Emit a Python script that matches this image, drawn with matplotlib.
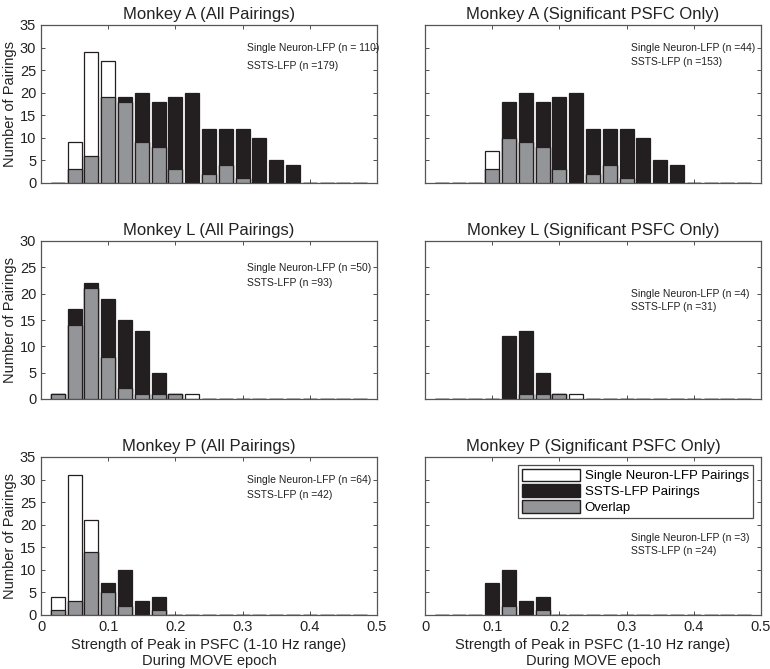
import matplotlib
matplotlib.use("Agg")
import matplotlib.pyplot as plt
from matplotlib.patches import Patch
import numpy as np

plt.rcParams['font.family'] = ['Liberation Sans', 'DejaVu Sans']

bin_centers = [0.025, 0.05, 0.075, 0.1, 0.125, 0.15, 0.175, 0.2, 0.225, 0.25,
               0.275, 0.3, 0.325, 0.35, 0.375, 0.4, 0.425, 0.45, 0.475]

# counts per bin (aligned with bin_centers)
a_all_single = [0, 9, 29, 27, 18, 9, 8, 3, 0, 2, 4, 1, 0, 0, 0, 0, 0, 0, 0]
a_all_ssts   = [0, 3, 6, 19, 19, 20, 18, 19, 20, 12, 12, 12, 10, 5, 4, 0, 0, 0, 0]
a_sig_single = [0, 0, 0, 7, 10, 9, 8, 3, 0, 2, 4, 1, 0, 0, 0, 0, 0, 0, 0]
a_sig_ssts   = [0, 0, 0, 3, 18, 20, 18, 19, 20, 12, 12, 12, 10, 5, 4, 0, 0, 0, 0]
l_all_single = [1, 14, 21, 8, 2, 1, 1, 1, 1, 0, 0, 0, 0, 0, 0, 0, 0, 0, 0]
l_all_ssts   = [1, 17, 22, 19, 15, 13, 5, 1, 0, 0, 0, 0, 0, 0, 0, 0, 0, 0, 0]
l_sig_single = [0, 0, 0, 0, 0, 1, 1, 1, 1, 0, 0, 0, 0, 0, 0, 0, 0, 0, 0]
l_sig_ssts   = [0, 0, 0, 0, 12, 13, 5, 1, 0, 0, 0, 0, 0, 0, 0, 0, 0, 0, 0]
p_all_single = [4, 31, 21, 5, 2, 0, 1, 0, 0, 0, 0, 0, 0, 0, 0, 0, 0, 0, 0]
p_all_ssts   = [1, 3, 14, 7, 10, 3, 4, 0, 0, 0, 0, 0, 0, 0, 0, 0, 0, 0, 0]
p_sig_single = [0, 0, 0, 0, 2, 0, 1, 0, 0, 0, 0, 0, 0, 0, 0, 0, 0, 0, 0]
p_sig_ssts   = [0, 0, 0, 7, 10, 3, 4, 0, 0, 0, 0, 0, 0, 0, 0, 0, 0, 0, 0]

titles = ["Monkey A (All Pairings)", "Monkey A (Significant PSFC Only)",
          "Monkey L (All Pairings)", "Monkey L (Significant PSFC Only)",
          "Monkey P (All Pairings)", "Monkey P (Significant PSFC Only)"]
n_texts = [("Single Neuron-LFP (n = 110)", "SSTS-LFP (n =179)"),
           ("Single Neuron-LFP (n =44)", "SSTS-LFP (n =153)"),
           ("Single Neuron-LFP (n =50)", "SSTS-LFP (n =93)"),
           ("Single Neuron-LFP (n =4)", "SSTS-LFP (n =31)"),
           ("Single Neuron-LFP (n =64)", "SSTS-LFP (n =42)"),
           ("Single Neuron-LFP (n =3)", "SSTS-LFP (n =24)")]
y_max = [35, 35, 30, 30, 35, 35]
y_ticks = [[0, 5, 10, 15, 20, 25, 30, 35], [0, 5, 10, 15, 20, 25, 30, 35],
           [0, 5, 10, 15, 20, 25, 30], [0, 5, 10, 15, 20, 25, 30],
           [0, 5, 10, 15, 20, 25, 30, 35], [0, 5, 10, 15, 20, 25, 30, 35]]
x_ticks = [0, 0.1, 0.2, 0.3, 0.4, 0.5]
x_ticklabels = ["0", "0.1", "0.2", "0.3", "0.4", "0.5"]

singles = [a_all_single, a_sig_single, l_all_single, l_sig_single, p_all_single, p_sig_single]
sstss = [a_all_ssts, a_sig_ssts, l_all_ssts, l_sig_ssts, p_all_ssts, p_sig_ssts]

text_pos = [(0.856, 0.740), (0.856, 0.768), (0.831, 0.732),
            (0.663, 0.584), (0.854, 0.759), (0.485, 0.405)]

BLACK = "#231f20"
GRAY = "#939598"
EDGE = "#231f20"
SPINE = "#555555"

fig = plt.figure(figsize=(7.7, 6.69), dpi=100)
lefts = [41 / 770, 425 / 770]
bottoms = [1 - 183 / 669, 1 - 399 / 669, 1 - 615 / 669]
w = 336 / 770
h = 158 / 669

bw = 0.021
for i in range(6):
    r, c = divmod(i, 2)
    ax = fig.add_axes([lefts[c], bottoms[r], w, h])
    s = np.array(singles[i])
    t = np.array(sstss[i])
    m = np.minimum(s, t)
    x = np.array(bin_centers)
    lw = 0.9
    ax.bar(x, t, width=bw, color=BLACK, edgecolor=EDGE, linewidth=lw, zorder=2)
    ax.bar(x, s, width=bw, color="white", edgecolor=EDGE, linewidth=lw, zorder=3)
    ax.bar(x, m, width=bw, color=GRAY, edgecolor=EDGE, linewidth=lw, zorder=4)
    ax.set_xlim(0, 0.5)
    ax.set_ylim(0, y_max[i])
    ax.set_xticks(x_ticks)
    ax.set_yticks(y_ticks[i])
    ax.tick_params(direction="in", top=True, right=True, length=3, width=0.6,
                   colors="#333333", labelsize=10.5, labelcolor="#222222")
    for sp in ax.spines.values():
        sp.set_color(SPINE)
        sp.set_linewidth(0.9)
    if r == 2:
        ax.set_xticklabels(x_ticklabels)
        ax.set_xlabel("Strength of Peak in PSFC (1-10 Hz range)\nDuring MOVE epoch",
                      fontsize=10.5, color="#222222", labelpad=3)
    else:
        ax.set_xticklabels([])
    if c == 0:
        ax.set_ylabel("Number of Pairings", fontsize=10.5, color="#222222", labelpad=2)
    else:
        ax.set_yticklabels([])
    ax.set_title(titles[i], fontsize=12, color="#222222", pad=4)
    y1, y2 = text_pos[i]
    ax.text(0.613, y1, n_texts[i][0], transform=ax.transAxes, fontsize=7.5,
            va="center", ha="left", color="#222222")
    ax.text(0.613, y2, n_texts[i][1], transform=ax.transAxes, fontsize=7.5,
            va="center", ha="left", color="#222222")
    if i == 5:
        handles = [Patch(facecolor="white", edgecolor=EDGE, linewidth=1.0),
                   Patch(facecolor=BLACK, edgecolor=EDGE, linewidth=1.0),
                   Patch(facecolor=GRAY, edgecolor=EDGE, linewidth=1.0)]
        leg = ax.legend(handles, ["Single Neuron-LFP Pairings", "SSTS-LFP Pairings", "Overlap"],
                        loc="upper right", bbox_to_anchor=(0.976, 0.952),
                        fontsize=9.5, frameon=True, fancybox=False,
                        handlelength=4.4, handleheight=1.1, handletextpad=0.4,
                        labelspacing=0.15, borderpad=0.3, borderaxespad=0)
        leg.get_frame().set_edgecolor(BLACK)
        leg.get_frame().set_linewidth(0.9)

fig.savefig("out.png", dpi=100)
